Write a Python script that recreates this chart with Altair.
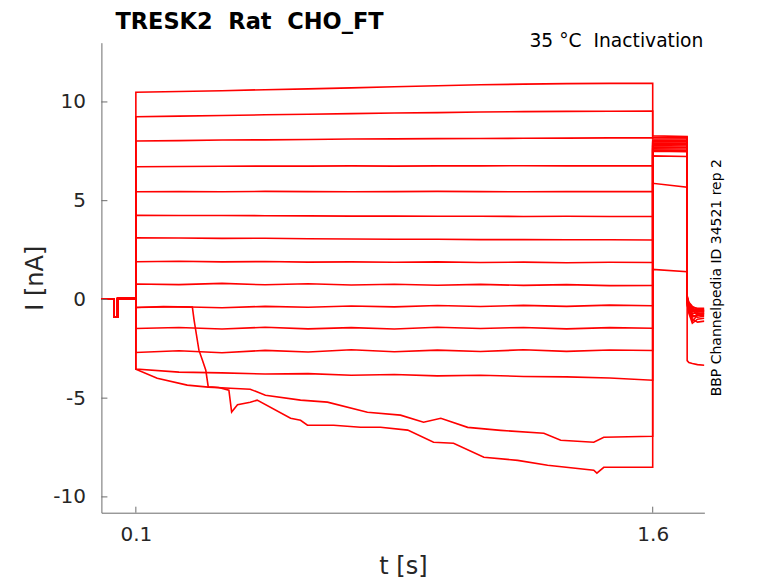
import altair as alt
import pandas as pd

# ---------------- data ----------------
# common holding segment before the test pulse (t in s, I in nA)
pre_t = [0.0, 0.036, 0.036, 0.047, 0.047, 0.1]
pre_i = [0.02, 0.02, -0.9, -0.9, 0.05, 0.05]

# test pulse knots (0.1 .. 1.6 s)
pulse_t = [0.1, 0.225, 0.35, 0.475, 0.6, 0.725, 0.85, 0.975, 1.1, 1.225, 1.35, 1.475, 1.6]
lvl_01 = [10.49, 10.53, 10.57, 10.62, 10.66, 10.71, 10.77, 10.82, 10.87, 10.9, 10.93, 10.94, 10.95]
lvl_02 = [9.25, 9.28, 9.31, 9.35, 9.38, 9.41, 9.44, 9.46, 9.49, 9.51, 9.52, 9.53, 9.54]
lvl_03 = [8.02, 8.04, 8.07, 8.08, 8.1, 8.12, 8.13, 8.14, 8.15, 8.16, 8.17, 8.18, 8.18]
lvl_04 = [6.72, 6.73, 6.74, 6.75, 6.75, 6.76, 6.75, 6.76, 6.76, 6.77, 6.76, 6.76, 6.76]
lvl_05 = [5.45, 5.46, 5.45, 5.47, 5.46, 5.45, 5.46, 5.47, 5.46, 5.45, 5.46, 5.46, 5.46]
lvl_06 = [4.26, 4.25, 4.25, 4.24, 4.23, 4.22, 4.22, 4.21, 4.21, 4.2, 4.21, 4.2, 4.2]
lvl_07 = [3.12, 3.11, 3.09, 3.1, 3.07, 3.06, 3.05, 3.05, 3.03, 3.03, 3.02, 3.02, 3.01]
lvl_08 = [1.91, 1.93, 1.9, 1.92, 1.89, 1.9, 1.88, 1.9, 1.87, 1.89, 1.86, 1.88, 1.87]
lvl_09 = [0.78, 0.75, 0.81, 0.74, 0.79, 0.73, 0.77, 0.72, 0.76, 0.71, 0.75, 0.7, 0.71]
lvl_10 = [-0.41, -0.37, -0.42, -0.35, -0.4, -0.33, -0.38, -0.31, -0.36, -0.3, -0.35, -0.29, -0.32]
lvl_11 = [-1.47, -1.42, -1.5, -1.41, -1.49, -1.43, -1.5, -1.41, -1.47, -1.42, -1.49, -1.43, -1.46]
lvl_12 = [-2.69, -2.6, -2.7, -2.58, -2.66, -2.55, -2.65, -2.57, -2.64, -2.55, -2.63, -2.56, -2.59]
lvl_13 = [-3.53, -3.68, -3.72, -3.78, -3.76, -3.84, -3.8, -3.87, -3.84, -3.9, -3.92, -3.98, -4.09]

# drifting trace ending near -6.9 nA
drift_b_t = [0.1, 0.162, 0.249, 0.31, 0.374, 0.432, 0.476, 0.578, 0.656, 0.772, 0.868,
             0.935, 0.985, 1.063, 1.159, 1.284, 1.333, 1.429, 1.458, 1.6]
drift_b_i = [-3.53, -3.99, -4.34, -4.44, -4.5, -4.55, -4.85, -5.1, -5.2, -5.71, -5.86,
             -6.22, -6.02, -6.48, -6.63, -6.78, -7.13, -7.23, -6.98, -6.93]

# trace that collapses from -0.4 nA and ends near -8.5 nA
drift_c_t = [0.1, 0.18, 0.264, 0.269, 0.283, 0.293, 0.303, 0.31, 0.34, 0.37, 0.378, 0.395,
             0.432, 0.452, 0.549, 0.578, 0.598, 0.674, 0.752, 0.81, 0.889, 0.964, 1.022,
             1.11, 1.208, 1.295, 1.429, 1.438, 1.458, 1.6]
drift_c_i = [-0.41, -0.36, -0.39, -1.05, -2.57, -3.07, -3.59, -4.42, -4.46, -4.6, -5.7, -5.33,
             -5.21, -5.1, -6.02, -6.12, -6.37, -6.37, -6.47, -6.47, -6.62, -7.23, -7.28,
             -7.99, -8.15, -8.4, -8.65, -8.8, -8.5, -8.5]

# tail step (1.6 .. 1.7 s), one value at each end per trace
tail_t = [1.6, 1.7]
tail_start = [8.28, 8.2, 8.13, 8.06, 7.99, 7.92, 7.86, 7.79, 7.71, 7.63, 7.56, 7.27, 7.5, 5.88, 1.52]
tail_end = [8.25, 8.18, 8.12, 8.04, 7.98, 7.9, 7.84, 7.77, 7.69, 7.62, 7.54, 7.24, 7.48, 5.68, 1.40]

# after the tail (1.7 .. 1.75 s)
post_t = [1.7, 1.705, 1.715, 1.73, 1.75]
post_vals = [
    [0.2, -0.2, -0.45, -0.55, -0.6],
    [0.1, -0.35, -0.6, -0.5, -0.55],
    [0.05, -0.6, -0.9, -0.75, -0.7],
    [0.0, -0.45, -1.1, -0.8, -0.75],
    [-0.05, -0.3, -0.6, -0.65, -0.6],
    [-0.1, -0.5, -0.8, -0.9, -0.85],
    [0.15, -0.15, -0.35, -0.5, -0.5],
    [-0.2, -0.7, -1.2, -1.0, -0.95],
    [0.0, -0.25, -0.5, -0.6, -0.65],
    [-0.1, -0.4, -0.7, -0.7, -0.7],
    [0.1, -0.2, -0.4, -0.45, -0.45],
    [-0.15, -0.55, -1.0, -1.15, -1.1],
    [0.05, -0.35, -0.75, -0.6, -0.55],
    [-0.3, -0.6, -0.85, -0.8, -0.8],
    [-3.1, -3.2, -3.25, -3.3, -3.33],
]

x_ticks = [0.1, 1.6]
y_ticks = [-10, -5, 0, 5, 10]

title_text = "TRESK2 \u00a0Rat \u00a0CHO_FT"
cond_text = "35 \u00b0C \u00a0Inactivation"
side_text = "BBP Channelpedia ID 34521 rep 2"

# ---------------- build the long table ----------------
pulses = [(pulse_t, v) for v in [lvl_01, lvl_02, lvl_03, lvl_04, lvl_05, lvl_06, lvl_07,
                                 lvl_08, lvl_09, lvl_10, lvl_11, lvl_12, lvl_13]]
pulses.append((drift_b_t, drift_b_i))
pulses.append((drift_c_t, drift_c_i))

rows = []
for k, (pt, pv) in enumerate(pulses):
    seq = list(zip(pre_t, pre_i)) + list(zip(pt, pv)) + \
        list(zip(tail_t, [tail_start[k], tail_end[k]])) + list(zip(post_t, post_vals[k]))
    for j, (t, i) in enumerate(seq):
        rows.append({"trace": k, "idx": j, "t": t, "I": i})
df = pd.DataFrame(rows)

W, H = 603, 470
FONT = "DejaVu Sans"
TXT = "#262626"
AX = "#6b6b6b"

xscale = alt.Scale(domain=[0, 1.75], nice=False, zero=False)
yscale = alt.Scale(domain=[-10.8, 13.0], nice=False, zero=False)

xaxis = alt.Axis(values=x_ticks, labelExpr="'' + datum.value", title="t [s]",
                 ticks=False, grid=False, domainColor=AX, labelPadding=12,
                 titleX=W / 2, titleY=54, titleBaseline="middle", titleAlign="center")
yaxis = alt.Axis(values=y_ticks, labelExpr="'' + datum.value", title="I [nA]",
                 ticks=False, grid=False, domainColor=AX, labelPadding=16,
                 titleX=-66, titleY=H / 2, titleBaseline="middle", titleAlign="center",
                 titleAngle=270)

lines = alt.Chart(df).mark_line(color="#ff0000", strokeWidth=1.6, clip=True).encode(
    x=alt.X("t:Q", scale=xscale, axis=xaxis),
    y=alt.Y("I:Q", scale=yscale, axis=yaxis),
    detail="trace:N",
    order="idx:Q",
)

xt = alt.Chart(pd.DataFrame({"t": x_ticks})).mark_rule(color=AX, strokeWidth=1).encode(
    x=alt.X("t:Q", scale=xscale, axis=xaxis), y=alt.value(H), y2=alt.value(H - 6))
yt = alt.Chart(pd.DataFrame({"I": y_ticks})).mark_rule(color=AX, strokeWidth=1).encode(
    y=alt.Y("I:Q", scale=yscale, axis=yaxis), x=alt.value(0), x2=alt.value(6))

title = alt.Chart(pd.DataFrame({"s": [title_text]})).mark_text(
    font=FONT, fontSize=22.5, fontWeight="bold", color="black", align="left",
    baseline="alphabetic").encode(text="s:N", x=alt.value(14), y=alt.value(-13.5))
cond = alt.Chart(pd.DataFrame({"s": [cond_text]})).mark_text(
    font=FONT, fontSize=18.7, color="black", align="right",
    baseline="alphabetic").encode(text="s:N", x=alt.value(W - 1), y=alt.value(4))
side = alt.Chart(pd.DataFrame({"s": [side_text]})).mark_text(
    font=FONT, fontSize=14, color="black", align="center", angle=270,
    baseline="middle").encode(text="s:N", x=alt.value(616), y=alt.value(H / 2))

chart = alt.layer(lines, xt, yt, title, cond, side).properties(
    width=W, height=H,
    autosize=alt.AutoSizeParams(type="none"),
    padding={"left": 93.4, "top": 34.7, "right": 60, "bottom": 72},
).configure_view(stroke=None).configure_axis(
    labelFont=FONT, labelFontSize=20, labelColor=TXT,
    titleFont=FONT, titleFontSize=24, titleFontWeight="normal", titleColor=TXT,
    domainWidth=1,
)

chart.save("out.html", embed_options={"renderer": "svg", "actions": False})
